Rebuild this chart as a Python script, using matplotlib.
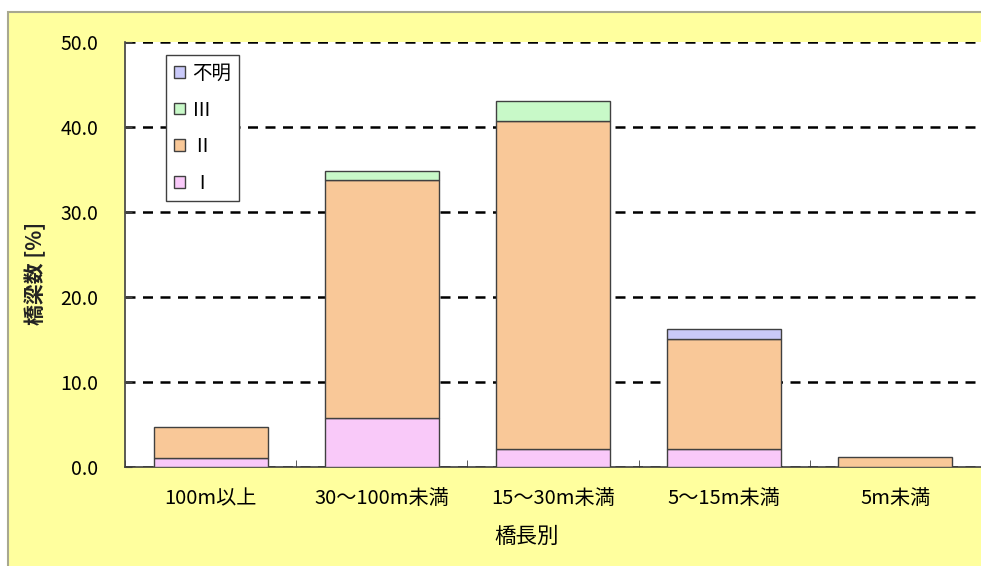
import numpy as np
import matplotlib
matplotlib.use('Agg')
import matplotlib.pyplot as plt
from matplotlib.patches import Rectangle

plt.rcParams['font.family'] = ['Noto Sans CJK JP', 'DejaVu Sans']

# 橋長別の橋梁数の割合 [%]
categories = ['100m以上', '30〜100m未満', '15〜30m未満', '5〜15m未満', '5m未満']
rank_1 = [1.1, 5.8, 2.1, 2.1, 0.0]
rank_2 = [3.6, 28.0, 38.6, 13.0, 1.2]
rank_3 = [0.0, 1.0, 2.4, 0.0, 0.0]
unknown = [0.0, 0.0, 0.0, 1.1, 0.0]
yticks = [0, 10, 20, 30, 40, 50]

series = [('Ⅰ', rank_1, '#f9c9f9'),
          ('Ⅱ', rank_2, '#f9c898'),
          ('Ⅲ', rank_3, '#c8f9c8'),
          ('不明', unknown, '#c9c9f9')]

W, H = 981, 566
fig = plt.figure(figsize=(W / 100, H / 100), dpi=100, facecolor='white')
# 黄色の背景と枠線（右・下は図の外まで伸ばす）
bg = Rectangle((8 / W, -0.05), 1.0, 1.05 - 12 / H,
               transform=fig.transFigure, facecolor='#ffff9e',
               edgecolor='#a8a890', linewidth=1.5, zorder=-10)
fig.add_artist(bg)

ax = fig.add_axes([125 / W, 99 / H, 856 / W, 425 / H])
ax.set_facecolor('white')

x = np.arange(len(categories))
bottom = np.zeros(len(categories))
handles = []
for label, vals, color in series:
    vals = np.array(vals)
    nz = vals > 0  # 0%の区分は描かない
    b = ax.bar(x[nz], vals[nz], width=0.667, bottom=bottom[nz], color=color,
               edgecolor='#404040', linewidth=1.0, label=label, zorder=3)
    handles.append(b)
    bottom += vals

ax.set_xlim(-0.5, 4.5)
ax.set_ylim(0, 50)
ax.set_yticks(yticks)
ax.set_yticklabels([f'{v:.1f}' for v in yticks])
ax.yaxis.grid(True, linestyle=(0, (4, 3)), color='black', linewidth=1.8, zorder=1)
ax.set_axisbelow(True)

ax.set_xticks(x)
ax.set_xticklabels(categories)
ax.set_xticks(np.arange(-0.5, 5, 1), minor=True)
ax.tick_params(axis='x', which='major', length=0, pad=15, labelsize=14.5)
ax.tick_params(axis='x', which='minor', direction='in', length=5, color='#404040')
ax.tick_params(axis='y', direction='in', length=5, pad=19, labelsize=14, color='#404040')

for side in ['top', 'right']:
    ax.spines[side].set_visible(False)
for side in ['left', 'bottom']:
    ax.spines[side].set_color('#404040')
    ax.spines[side].set_linewidth(1.2)

# 軸ラベル
fig.text(35 / W, 1 - 273 / H, '橋梁数 [%]', fontsize=15, fontweight='bold',
         rotation=90, ha='center', va='center', color='#222222')
fig.text(527 / W, 1 - 537 / H, '橋長別', fontsize=15.5, ha='center', va='center')

leg = ax.legend(handles[::-1], [s[0] for s in series][::-1], loc='upper left',
                bbox_to_anchor=(0.048, 0.969), borderaxespad=0, fontsize=14,
                fancybox=False, framealpha=1, edgecolor='#404040',
                handlelength=0.55, handleheight=0.55, labelspacing=0.8,
                handletextpad=0.4, borderpad=0.4)
leg.get_frame().set_linewidth(1.0)

fig.savefig('out.png', dpi=100, facecolor=fig.get_facecolor())
